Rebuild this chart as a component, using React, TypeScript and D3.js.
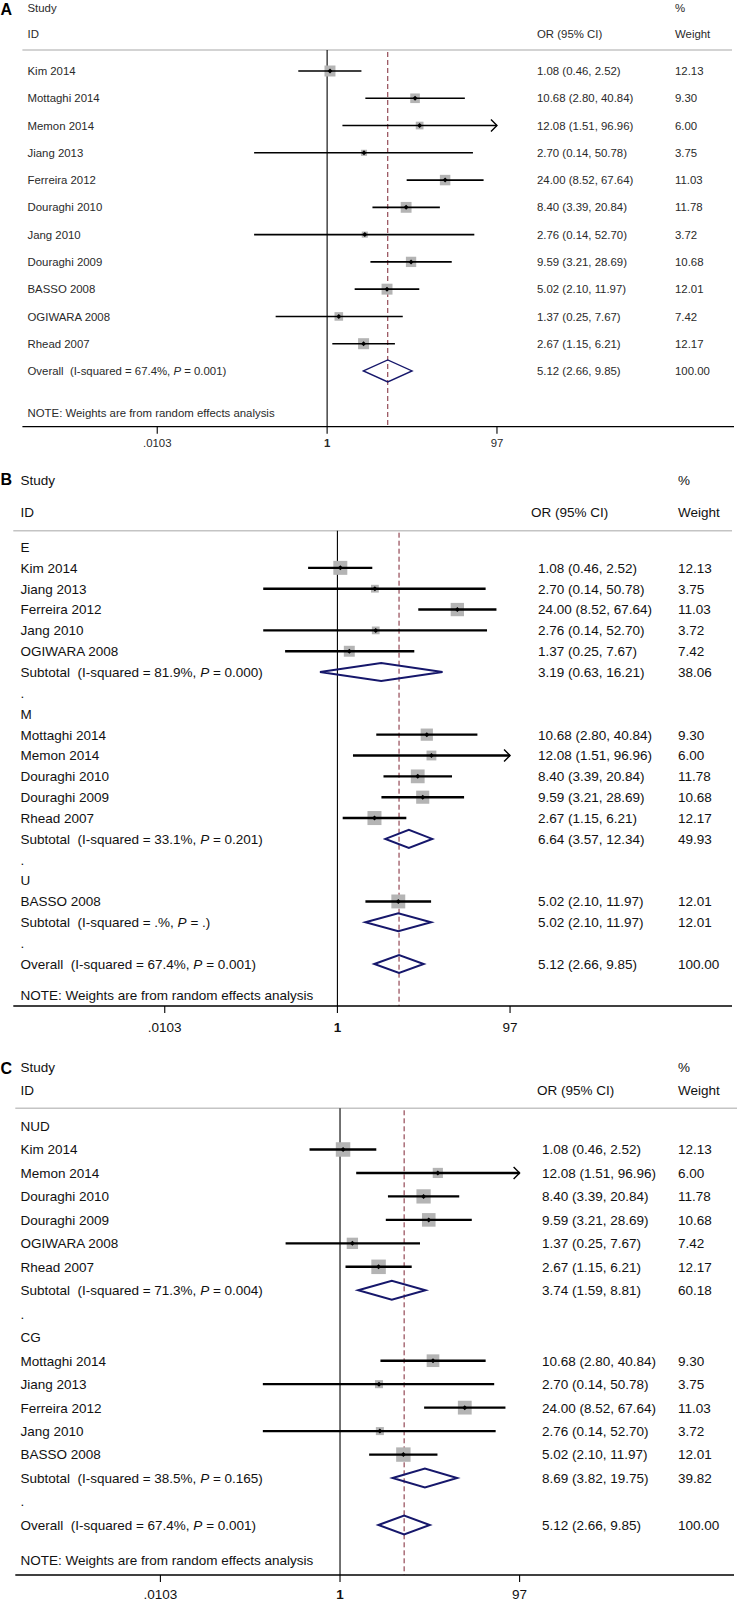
import React from 'react';
import * as d3 from 'd3';

// ---------------- DATA ----------------
const studyNames = ["Kim 2014", "Mottaghi 2014", "Memon 2014", "Jiang 2013", "Ferreira 2012", "Douraghi 2010", "Jang 2010", "Douraghi 2009", "BASSO 2008", "OGIWARA 2008", "Rhead 2007"];
const studyOR = [1.08, 10.68, 12.08, 2.70, 24.00, 8.40, 2.76, 9.59, 5.02, 1.37, 2.67];
const studyLo = [0.46, 2.80, 1.51, 0.14, 8.52, 3.39, 0.14, 3.21, 2.10, 0.25, 1.15];
const studyHi = [2.52, 40.84, 96.96, 50.78, 67.64, 20.84, 52.70, 28.69, 11.97, 7.67, 6.21];
const studyWeight = [12.13, 9.30, 6.00, 3.75, 11.03, 11.78, 3.72, 10.68, 12.01, 7.42, 12.17];

const overallOR = 5.12;
const overallLo = 2.66;
const overallHi = 9.85;
const overallWeight = 100.0;
const overallI2 = "67.4";
const overallP = "0.001";

// Panel B: subgroups by type
const typeGroups = ["E", "M", "U"];
const typeMembers = [
  ["Kim 2014", "Jiang 2013", "Ferreira 2012", "Jang 2010", "OGIWARA 2008"],
  ["Mottaghi 2014", "Memon 2014", "Douraghi 2010", "Douraghi 2009", "Rhead 2007"],
  ["BASSO 2008"],
];
const typeSubOR = [3.19, 6.64, 5.02];
const typeSubLo = [0.63, 3.57, 2.10];
const typeSubHi = [16.21, 12.34, 11.97];
const typeSubWeight = [38.06, 49.93, 12.01];
const typeI2 = ["81.9", "33.1", "."];
const typeP = ["0.000", "0.201", "."];

// Panel C: subgroups by disease
const diseaseGroups = ["NUD", "CG"];
const diseaseMembers = [
  ["Kim 2014", "Memon 2014", "Douraghi 2010", "Douraghi 2009", "OGIWARA 2008", "Rhead 2007"],
  ["Mottaghi 2014", "Jiang 2013", "Ferreira 2012", "Jang 2010", "BASSO 2008"],
];
const diseaseSubOR = [3.74, 8.69];
const diseaseSubLo = [1.59, 3.82];
const diseaseSubHi = [8.81, 19.75];
const diseaseSubWeight = [60.18, 39.82];
const diseaseI2 = ["71.3", "38.5"];
const diseaseP = ["0.004", "0.165"];

const tickValues = [0.0103, 1, 97];
const tickLabels = [".0103", "1", "97"];
const maxWeight = d3.max(studyWeight) as number;

// ---------------- ROW BUILDING ----------------
type Row =
  | { kind: 'text'; label: string }
  | { kind: 'study'; label: string; or: number; lo: number; hi: number; w: number }
  | { kind: 'pooled'; prefix: string; i2: string; p: string; or: number; lo: number; hi: number; w: number };

function studyRow(name: string): Row {
  const i = studyNames.indexOf(name);
  return { kind: 'study', label: name, or: studyOR[i], lo: studyLo[i], hi: studyHi[i], w: studyWeight[i] };
}

const overallRow: Row = { kind: 'pooled', prefix: 'Overall', i2: overallI2, p: overallP, or: overallOR, lo: overallLo, hi: overallHi, w: overallWeight };

function groupedRows(groups: string[], members: string[][], sOR: number[], sLo: number[], sHi: number[], sW: number[], i2: string[], p: string[]): Row[] {
  const rows: Row[] = [];
  groups.forEach((g, gi) => {
    rows.push({ kind: 'text', label: g });
    members[gi].forEach((m) => rows.push(studyRow(m)));
    rows.push({ kind: 'pooled', prefix: 'Subtotal', i2: i2[gi], p: p[gi], or: sOR[gi], lo: sLo[gi], hi: sHi[gi], w: sW[gi] });
    rows.push({ kind: 'text', label: '.' });
  });
  rows.push(overallRow);
  return rows;
}

const rowsA: Row[] = [...studyNames.map(studyRow), overallRow];
const rowsB = groupedRows(typeGroups, typeMembers, typeSubOR, typeSubLo, typeSubHi, typeSubWeight, typeI2, typeP);
const rowsC = groupedRows(diseaseGroups, diseaseMembers, diseaseSubOR, diseaseSubLo, diseaseSubHi, diseaseSubWeight, diseaseI2, diseaseP);

const f2 = d3.format('.2f');

// ---------------- LAYOUT ----------------
interface Layout {
  letter: string; letterY: number;
  studyY: number; idY: number; headerLineY: number; firstRowY: number; spacing: number;
  noteGap: number; axisY: number; tickLabelY: number;
  labelX: number; orX: number; orHeaderX: number; wX: number;
  lineX0: number; lineX1: number; axisX0: number; axisX1: number;
  x1: number; decade: number; fontSize: number; boxMax: number; ciW: number; diamondH: number; diamondW: number; textColor: string;
}

const layoutA: Layout = {
  letter: 'A', letterY: 9, studyY: 8, idY: 34, headerLineY: 50, firstRowY: 71, spacing: 27.27,
  noteGap: 1.53, axisY: 426.7, tickLabelY: 443,
  labelX: 27.5, orX: 537, orHeaderX: 537, wX: 675,
  lineX0: 22.4, lineX1: 732, axisX0: 22.4, axisX1: 734,
  x1: 327.1, decade: 85.5, fontSize: 11.4, boxMax: 11, ciW: 1.6, diamondH: 11, diamondW: 1.4, textColor: '#2a2a2a',
};
const layoutB: Layout = {
  letter: 'B', letterY: 479, studyY: 480, idY: 511.7, headerLineY: 530.7, firstRowY: 547, spacing: 20.85,
  noteGap: 1.5, axisY: 1006, tickLabelY: 1026.7,
  labelX: 20.4, orX: 538, orHeaderX: 531, wX: 678,
  lineX0: 13.3, lineX1: 732, axisX0: 13.3, axisX1: 732,
  x1: 337.4, decade: 86.9, fontSize: 13.5, boxMax: 14, ciW: 2.4, diamondH: 9, diamondW: 2, textColor: '#111',
};
const layoutC: Layout = {
  letter: 'C', letterY: 1068, studyY: 1066.7, idY: 1090, headerLineY: 1108.3, firstRowY: 1126, spacing: 23.47,
  noteGap: 1.5, axisY: 1575, tickLabelY: 1594,
  labelX: 20.4, orX: 542, orHeaderX: 537, wX: 678,
  lineX0: 15.3, lineX1: 737, axisX0: 15.3, axisX1: 734,
  x1: 340, decade: 90.4, fontSize: 13.5, boxMax: 14.5, ciW: 2.4, diamondH: 9.5, diamondW: 2, textColor: '#111',
};

const NAVY = '#16176b';
const DASH = '#7e2433';

function Panel({ rows, L }: { rows: Row[]; L: Layout }) {
  const span = Math.log10(97) * L.decade;
  const x = d3.scaleLog().domain([tickValues[0], tickValues[2]]).range([L.x1 - span, L.x1 + span]);
  const rowY = (i: number) => L.firstRowY + i * L.spacing;
  const lastY = rowY(rows.length - 1);
  const noteY = lastY + L.noteGap * L.spacing;
  const fs = L.fontSize;
  const base = (y: number) => y + fs * 0.36;
  const textProps = { fontFamily: 'Liberation Sans, Arial, sans-serif', fontSize: fs, fill: L.textColor };
  const boxScale = d3.scaleSqrt().domain([0, maxWeight]).range([0, L.boxMax]);
  const pooled = rows.find((r) => r.kind === 'pooled' && r.prefix === 'Overall') as any;

  return (
    <g>
      <text x={0.5} y={L.letterY + 6} fontFamily="Liberation Sans, Arial, sans-serif" fontWeight="bold" fontSize={16} fill="#000">{L.letter}</text>
      <text {...textProps} x={L.labelX} y={base(L.studyY)}>Study</text>
      <text {...textProps} x={L.labelX} y={base(L.idY)}>ID</text>
      <text {...textProps} x={L.orHeaderX} y={base(L.idY)}>OR (95% CI)</text>
      <text {...textProps} x={L.wX} y={base(L.studyY)}>%</text>
      <text {...textProps} x={L.wX} y={base(L.idY)}>Weight</text>
      <line x1={L.lineX0} x2={L.lineX1} y1={L.headerLineY} y2={L.headerLineY} stroke="#c4c4c4" strokeWidth={1.5} />

      {/* null line */}
      <line x1={x(1)} x2={x(1)} y1={L.headerLineY} y2={L.axisY} stroke="#000" strokeWidth={1.1} />
      {/* overall effect dashed line */}
      <line x1={x(pooled.or)} x2={x(pooled.or)} y1={L.headerLineY + 2} y2={L.axisY} stroke={DASH} strokeWidth={1} strokeDasharray="5,3" />

      {rows.map((r, i) => {
        const y = rowY(i);
        if (r.kind === 'text') {
          return <text key={i} {...textProps} x={L.labelX} y={base(y)}>{r.label}</text>;
        }
        if (r.kind === 'study') {
          const s = boxScale(r.w);
          const arrow = r.hi >= 96;
          const xe = arrow ? x(tickValues[2]) : x(r.hi);
          return (
            <g key={i}>
              <text {...textProps} x={L.labelX} y={base(y)}>{r.label}</text>
              <rect x={x(r.or) - s / 2} y={y - s / 2} width={s} height={s} fill="#b4b4b4" />
              <line x1={x(r.lo)} x2={xe} y1={y} y2={y} stroke="#000" strokeWidth={L.ciW} />
              {arrow && (
                <path d={`M${xe - 6},${y - 6} L${xe},${y} L${xe - 6},${y + 6}`} fill="none" stroke="#000" strokeWidth={1.4} />
              )}
              <path d={`M${x(r.or) - 2.5},${y} L${x(r.or)},${y - 2.5} L${x(r.or) + 2.5},${y} L${x(r.or)},${y + 2.5} Z`} fill="#000" />
              <text {...textProps} x={L.orX} y={base(y)}>{`${f2(r.or)} (${f2(r.lo)}, ${f2(r.hi)})`}</text>
              <text {...textProps} x={L.wX} y={base(y)}>{f2(r.w)}</text>
            </g>
          );
        }
        const h = L.diamondH;
        return (
          <g key={i}>
            <text {...textProps} x={L.labelX} y={base(y)} xmlSpace="preserve">
              {`${r.prefix}  (I-squared = ${r.i2}%, `}
              <tspan fontStyle="italic">P</tspan>
              {` = ${r.p})`}
            </text>
            <path d={`M${x(r.lo)},${y} L${x(r.or)},${y - h} L${x(r.hi)},${y} L${x(r.or)},${y + h} Z`} fill="none" stroke={NAVY} strokeWidth={L.diamondW} />
            <text {...textProps} x={L.orX} y={base(y)}>{`${f2(r.or)} (${f2(r.lo)}, ${f2(r.hi)})`}</text>
            <text {...textProps} x={L.wX} y={base(y)}>{f2(r.w)}</text>
          </g>
        );
      })}

      <text {...textProps} x={L.labelX} y={base(noteY)}>NOTE: Weights are from random effects analysis</text>

      {/* axis */}
      <line x1={L.axisX0} x2={L.axisX1} y1={L.axisY} y2={L.axisY} stroke="#000" strokeWidth={1.3} />
      {tickValues.map((t, i) => (
        <g key={i}>
          <line x1={x(t)} x2={x(t)} y1={L.axisY} y2={L.axisY + 7} stroke="#000" strokeWidth={1.1} />
          <text {...textProps} x={x(t)} y={base(L.tickLabelY)} textAnchor="middle" fontWeight={t === 1 ? 'bold' : 'normal'}>{tickLabels[i]}</text>
        </g>
      ))}
    </g>
  );
}

export default function App() {
  return (
    <svg width={737} height={1599} viewBox="0 0 737 1599" style={{ position: 'absolute', left: 0, top: 0, background: '#fff' }}>
      <rect x={0} y={0} width={737} height={1599} fill="#fff" />
      <Panel rows={rowsA} L={layoutA} />
      <Panel rows={rowsB} L={layoutB} />
      <Panel rows={rowsC} L={layoutC} />
    </svg>
  );
}
